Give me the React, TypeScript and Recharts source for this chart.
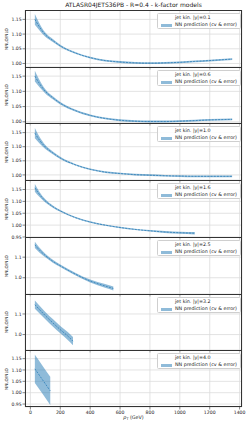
import React from "react";
import { ComposedChart, Area, Line, XAxis, YAxis, CartesianGrid } from "recharts";

// pT grids (GeV) for each rapidity bin
const ptCentral = [30, 60, 100, 150, 200, 300, 400, 500, 600, 700, 800, 900, 1000, 1100, 1200, 1350];
const ptY16 = [30, 60, 100, 150, 200, 300, 400, 500, 600, 700, 800, 900, 1000, 1100];
const ptY25 = [30, 60, 100, 150, 200, 300, 400, 500, 555];
const ptY32 = [30, 60, 100, 150, 200, 250, 285];
const ptY40 = [30, 80, 133];

// NNLO/NLO central values
const cvY01 = [1.15, 1.125, 1.098, 1.078, 1.06, 1.036, 1.02, 1.01, 1.005, 1.002, 1.001, 1.002, 1.004, 1.007, 1.01, 1.015];
const cvY06 = [1.15, 1.126, 1.1, 1.079, 1.061, 1.037, 1.021, 1.011, 1.005, 1.002, 1.001, 1.001, 1.002, 1.004, 1.006, 1.008];
const cvY10 = [1.148, 1.124, 1.099, 1.078, 1.06, 1.036, 1.02, 1.01, 1.005, 1.001, 0.999, 0.997, 0.996, 0.995, 0.995, 0.995];
const cvY16 = [1.157, 1.13, 1.102, 1.078, 1.06, 1.032, 1.013, 1.0, 0.99, 0.982, 0.976, 0.971, 0.968, 0.966];
const cvY25 = [1.16, 1.135, 1.108, 1.08, 1.058, 1.018, 0.984, 0.96, 0.948];
const cvY32 = [1.145, 1.122, 1.092, 1.057, 1.024, 0.993, 0.968];
const cvY40 = [1.105, 1.058, 1.008];

// half-width of the uncertainty band
const errCentral = [0.018, 0.012, 0.007, 0.005, 0.004, 0.003, 0.003, 0.003, 0.003, 0.003, 0.003, 0.003, 0.003, 0.003, 0.003, 0.003];
const errY16 = [0.016, 0.011, 0.007, 0.005, 0.004, 0.003, 0.003, 0.003, 0.003, 0.003, 0.003, 0.004, 0.004, 0.005];
const errY25 = [0.015, 0.012, 0.009, 0.007, 0.006, 0.006, 0.007, 0.009, 0.01];
const errY32 = [0.02, 0.019, 0.018, 0.018, 0.018, 0.019, 0.02];
const errY40 = [0.062, 0.062, 0.062];

const rapidityLabels = ["0.1", "0.6", "1.0", "1.6", "2.5", "3.2", "4.0"];
const xTicks = [0, 200, 400, 600, 800, 1000, 1200, 1400];
const ticksFine = [1.0, 1.05, 1.1, 1.15];
const ticksWide = [0.95, 1.0, 1.05, 1.1, 1.15];
const ticksCoarse = [1.0, 1.1];

const panels = [
  { y: rapidityLabels[0], pt: ptCentral, cv: cvY01, err: errCentral, domain: [0.988, 1.182], ticks: ticksFine, dec: 2 },
  { y: rapidityLabels[1], pt: ptCentral, cv: cvY06, err: errCentral, domain: [0.996, 1.18], ticks: ticksFine, dec: 2 },
  { y: rapidityLabels[2], pt: ptCentral, cv: cvY10, err: errCentral, domain: [0.982, 1.184], ticks: ticksFine, dec: 2 },
  { y: rapidityLabels[3], pt: ptY16, cv: cvY16, err: errY16, domain: [0.95, 1.19], ticks: ticksWide, dec: 2 },
  { y: rapidityLabels[4], pt: ptY25, cv: cvY25, err: errY25, domain: [0.921, 1.198], ticks: ticksCoarse, dec: 1 },
  { y: rapidityLabels[5], pt: ptY32, cv: cvY32, err: errY32, domain: [0.925, 1.197], ticks: ticksCoarse, dec: 1 },
  { y: rapidityLabels[6], pt: ptY40, cv: cvY40, err: errY40, domain: [0.937, 1.188], ticks: ticksWide, dec: 2 },
];

const W = 249;
const PLOT_L = 25;
const PLOT_R = 242;
const TOP = 10;
const BOTTOM = 407;
const PH = (BOTTOM - TOP) / panels.length;
const C0 = "#1f77b4";
const FRAME = "#333";

const Blank = () => <g />;

function Panel({ p, i }: { p: any; i: number }) {
  const top = Math.round(TOP + i * PH);
  const bottom = Math.round(TOP + (i + 1) * PH);
  const h = bottom - top;
  const last = i === panels.length - 1;
  const axisH = last ? 16 : 3;
  const data = p.pt.map((x: number, k: number) => ({
    pt: x,
    cv: p.cv[k],
    band: [p.cv[k] - p.err[k], p.cv[k] + p.err[k]],
  }));

  return (
    <div style={{ position: "absolute", left: 0, top, width: W, height: h }}>
      <ComposedChart
        width={W}
        height={h + axisH}
        data={data}
        margin={{ top: 0, right: W - PLOT_R, bottom: 0, left: 0 }}
      >
        <CartesianGrid stroke="#dcdcdc" strokeWidth={0.8} />
        <XAxis
          type="number"
          dataKey="pt"
          domain={[-36, 1416]}
          ticks={xTicks}
          interval={0}
          allowDataOverflow
          height={axisH}
          axisLine={false}
          tickSize={2.5}
          tickMargin={1}
          tickLine={{ stroke: FRAME, strokeWidth: 0.6 }}
          tick={last ? { fontSize: 4.6, fill: "#222" } : <Blank />}
        />
        <YAxis
          type="number"
          domain={p.domain}
          ticks={p.ticks}
          interval={0}
          allowDataOverflow
          width={PLOT_L}
          axisLine={false}
          tickSize={2.5}
          tickMargin={0.8}
          tickLine={{ stroke: FRAME, strokeWidth: 0.6 }}
          tick={{ fontSize: 4.6, fill: "#222" }}
          tickFormatter={(v: number) => v.toFixed(p.dec)}
        />
        <Area
          type="monotone"
          dataKey="band"
          stroke="none"
          fill={C0}
          fillOpacity={0.5}
          isAnimationActive={false}
        />
        <Line
          type="monotone"
          dataKey="cv"
          stroke={C0}
          strokeWidth={0.7}
          strokeDasharray="2 1.2"
          dot={false}
          isAnimationActive={false}
        />
      </ComposedChart>

      {/* axes frame */}
      <div
        style={{
          position: "absolute",
          left: PLOT_L,
          top: 0,
          width: PLOT_R - PLOT_L,
          height: h,
          boxSizing: "border-box",
          borderTop: `0.8px solid ${FRAME}`,
          borderLeft: `0.8px solid ${FRAME}`,
          borderRight: `0.8px solid ${FRAME}`,
          borderBottom: last ? `0.8px solid ${FRAME}` : "none",
          pointerEvents: "none",
        }}
      />

      {/* legend */}
      <div
        style={{
          position: "absolute",
          left: 157,
          top: 3,
          width: 84,
          height: 16,
          boxSizing: "border-box",
          border: "0.6px solid #cfcfcf",
          borderRadius: 1.5,
          background: "rgba(255,255,255,0.85)",
          fontSize: 4.8,
          lineHeight: 1,
          color: "#222",
          whiteSpace: "nowrap",
        }}
      >
        <div style={{ position: "absolute", left: 17, top: 2 }}>jet kin. |y|={p.y}</div>
        <div style={{ position: "absolute", left: 3, top: 9.6, width: 11, height: 3, background: "#8fbbd9" }} />
        <div style={{ position: "absolute", left: 17, top: 9 }}>NN prediction (cv &amp; error)</div>
      </div>

      {/* y label */}
      <div
        style={{
          position: "absolute",
          left: 6,
          top: h / 2,
          transform: "translate(-50%, -50%) rotate(-90deg)",
          fontSize: 4.2,
          color: "#222",
          whiteSpace: "nowrap",
        }}
      >
        NNLO/NLO
      </div>
    </div>
  );
}

export default function App() {
  return (
    <div
      style={{
        position: "absolute",
        left: 0,
        top: 0,
        width: W,
        height: 426,
        background: "#fff",
        fontFamily: "'DejaVu Sans', sans-serif",
      }}
    >
      <div
        style={{
          position: "absolute",
          left: PLOT_L,
          top: 1.5,
          width: PLOT_R - PLOT_L,
          textAlign: "center",
          fontSize: 6,
          lineHeight: 1,
          color: "#222",
          whiteSpace: "nowrap",
        }}
      >
        ATLASR04JETS36PB - R=0.4 - k-factor models
      </div>

      {panels.map((p, i) => (
        <Panel key={p.y} p={p} i={i} />
      ))}

      <div
        style={{
          position: "absolute",
          left: PLOT_L,
          top: 416,
          width: PLOT_R - PLOT_L,
          textAlign: "center",
          fontSize: 4.8,
          lineHeight: 1,
          color: "#222",
          whiteSpace: "nowrap",
        }}
      >
        <i>p</i>
        <span style={{ fontSize: 3.4, verticalAlign: "-1px" }}>T</span> (GeV)
      </div>
    </div>
  );
}
